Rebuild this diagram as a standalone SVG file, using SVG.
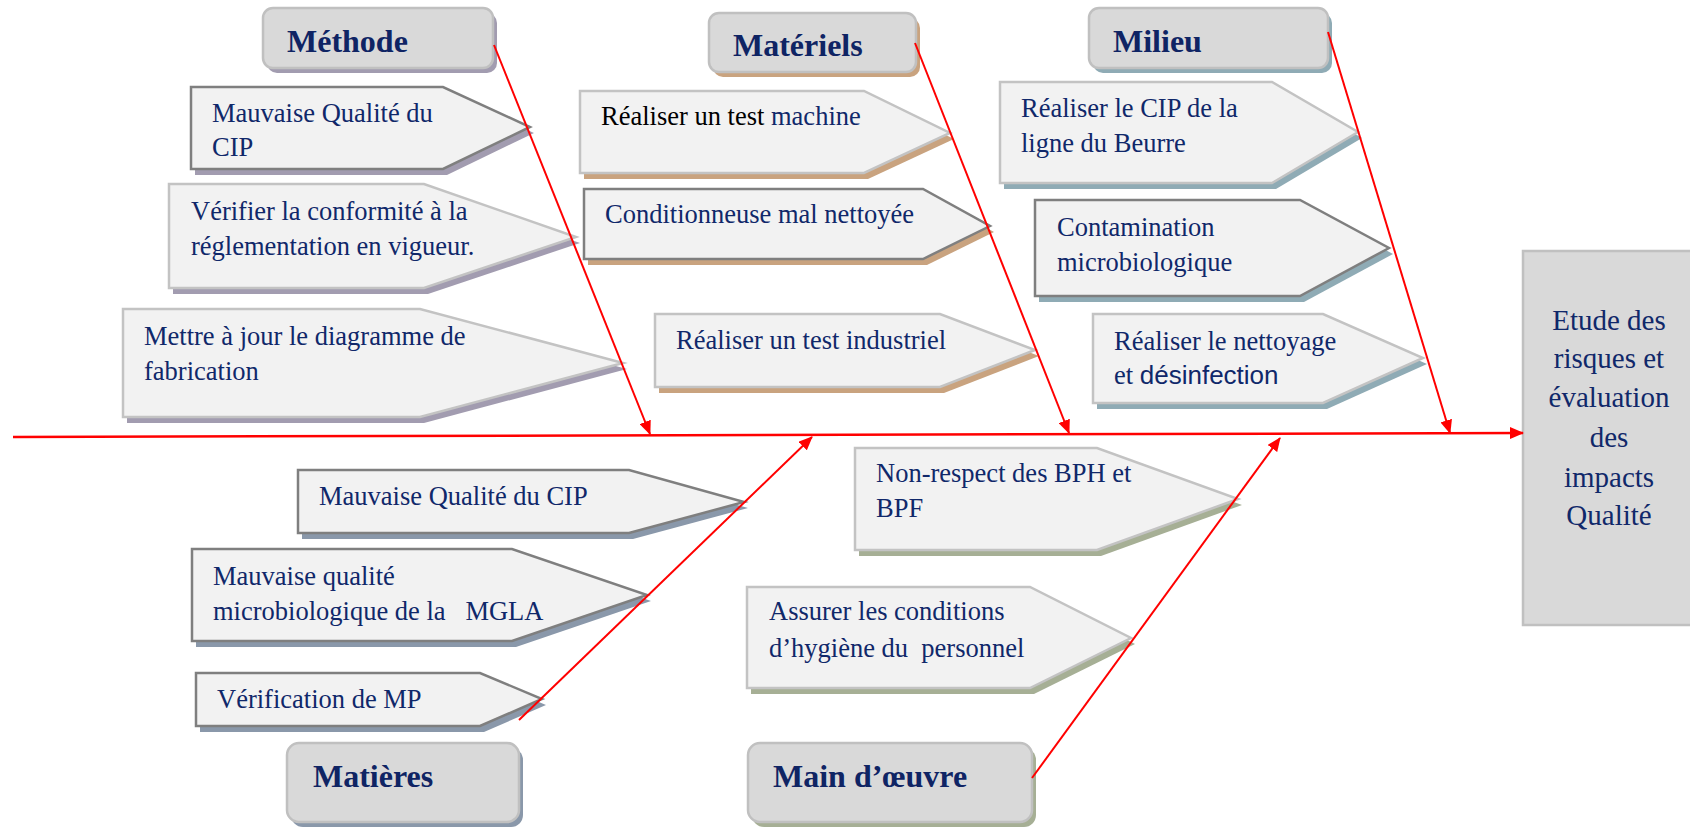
<svg xmlns="http://www.w3.org/2000/svg" width="1690" height="829" viewBox="0 0 1690 829">
  <defs>
    <marker id="ah" viewBox="0 0 14 12" refX="13" refY="6" markerWidth="14" markerHeight="12" markerUnits="userSpaceOnUse" orient="auto">
      <path d="M0,0 L14,6 L0,12 z" fill="#ff0000"/>
    </marker>
  </defs>
  <style>
    .hdr { fill: #d9d9d9; stroke: #c0c0c0; stroke-width: 2.5; }
    .cause { fill: #f2f2f2; stroke-width: 2.5; stroke-linejoin: miter; }
    .dark { stroke: #7f7f7f; }
    .light { stroke: #c3c3c3; }
    .sh-meth { fill: #a29cb0; }
    .sh-mat { fill: #c9a37f; }
    .sh-mil { fill: #8fabb5; }
    .sh-mtr { fill: #8a98aa; }
    .sh-mo { fill: #a6af95; }
    .t { font-family: "Liberation Serif", "Times New Roman", serif; font-size: 26.5px; fill: #10286a; }
    .h { font-family: "Liberation Serif", "Times New Roman", serif; font-size: 32px; font-weight: bold; fill: #0f2464; }
    .sans { font-family: "Liberation Sans", Arial, sans-serif; font-size: 26px; }
    .eff { font-family: "Liberation Serif", "Times New Roman", serif; font-size: 29px; fill: #10286a; text-anchor: middle; }
    .bone { stroke: #ff0000; stroke-width: 2; fill: none; marker-end: url(#ah); }
    .spine { stroke: #ff0000; stroke-width: 2.5; fill: none; marker-end: url(#ah); }
  </style>

  <!-- Effect -->
  <g id="effet">
    <rect x="1523" y="251" width="180" height="374" class="hdr" stroke-width="2"/>
    <text class="eff" x="1609" y="330">Etude des</text>
    <text class="eff" x="1609" y="368">risques et</text>
    <text class="eff" x="1609" y="407">évaluation</text>
    <text class="eff" x="1609" y="447">des</text>
    <text class="eff" x="1609" y="487">impacts</text>
    <text class="eff" x="1609" y="525">Qualité</text>
  </g>

  <!-- Méthode -->
  <g id="methode">
    <rect x="267" y="13" width="230" height="60" rx="10" class="sh-meth"/>
    <rect x="263" y="8" width="230" height="60" rx="10" class="hdr"/>
    <text class="h" x="287" y="52">Méthode</text>
  </g>
  <g id="methode-1">
    <polygon points="195,93 447,93 534,133 447,175 195,175" class="sh-meth"/>
    <polygon points="191,87 443,87 530,127 443,169 191,169" class="cause dark"/>
    <text class="t" x="212" y="122">Mauvaise Qualité du</text>
    <text class="t" x="212" y="156">CIP</text>
  </g>
  <g id="methode-2">
    <polygon points="173,190 428,190 580,243 428,294 173,294" class="sh-meth"/>
    <polygon points="169,184 424,184 576,237 424,288 169,288" class="cause light"/>
    <text class="t" x="191" y="220">Vérifier la conformité à la</text>
    <text class="t" x="191" y="255">réglementation en vigueur.</text>
  </g>
  <g id="methode-3">
    <polygon points="127,315 424,315 627,369 424,423 127,423" class="sh-meth"/>
    <polygon points="123,309 420,309 623,363 420,417 123,417" class="cause light"/>
    <text class="t" x="144" y="345">Mettre à jour le diagramme de</text>
    <text class="t" x="144" y="380">fabrication</text>
  </g>

  <!-- Matériels -->
  <g id="materiels">
    <rect x="713" y="18" width="207" height="59" rx="10" class="sh-mat"/>
    <rect x="709" y="13" width="207" height="59" rx="10" class="hdr"/>
    <text class="h" x="733" y="56">Matériels</text>
  </g>
  <g id="materiels-1">
    <polygon points="584,97 868,97 954,139 868,179 584,179" class="sh-mat"/>
    <polygon points="580,91 864,91 950,133 864,173 580,173" class="cause light"/>
    <text class="t" x="601" y="125"><tspan fill="#000000">Réaliser un test </tspan>machine</text>
  </g>
  <g id="materiels-2">
    <polygon points="588,195 927,195 994,232 927,265 588,265" class="sh-mat"/>
    <polygon points="584,189 923,189 990,226 923,259 584,259" class="cause dark"/>
    <text class="t" x="605" y="223">Conditionneuse mal nettoyée</text>
  </g>
  <g id="materiels-3">
    <polygon points="659,320 944,320 1039,356 944,393 659,393" class="sh-mat"/>
    <polygon points="655,314 940,314 1035,350 940,387 655,387" class="cause light"/>
    <text class="t" x="676" y="349">Réaliser un test industriel</text>
  </g>

  <!-- Milieu -->
  <g id="milieu">
    <rect x="1093" y="13" width="239" height="60" rx="10" class="sh-mil"/>
    <rect x="1089" y="8" width="239" height="60" rx="10" class="hdr"/>
    <text class="h" x="1113" y="52">Milieu</text>
  </g>
  <g id="milieu-1">
    <polygon points="1004,88 1276,88 1362,138 1276,189 1004,189" class="sh-mil"/>
    <polygon points="1000,82 1272,82 1358,132 1272,183 1000,183" class="cause light"/>
    <text class="t" x="1021" y="117">Réaliser le CIP de la</text>
    <text class="t" x="1021" y="152">ligne du Beurre</text>
  </g>
  <g id="milieu-2">
    <polygon points="1039,206 1304,206 1393,254 1304,302 1039,302" class="sh-mil"/>
    <polygon points="1035,200 1300,200 1389,248 1300,296 1035,296" class="cause dark"/>
    <text class="t" x="1057" y="236">Contamination</text>
    <text class="t" x="1057" y="271">microbiologique</text>
  </g>
  <g id="milieu-3">
    <polygon points="1097,320 1327,320 1427,364 1327,409 1097,409" class="sh-mil"/>
    <polygon points="1093,314 1323,314 1423,358 1323,403 1093,403" class="cause light"/>
    <text class="t" x="1114" y="350">Réaliser le nettoyage</text>
    <text class="t" x="1114" y="384">et <tspan class="sans">désinfection</tspan></text>
  </g>

  <!-- Matières -->
  <g id="matieres-1">
    <polygon points="302,476 633,476 748,508 633,539 302,539" class="sh-mtr"/>
    <polygon points="298,470 629,470 744,502 629,533 298,533" class="cause dark"/>
    <text class="t" x="319" y="505">Mauvaise Qualité du CIP</text>
  </g>
  <g id="matieres-2">
    <polygon points="196,555 516,555 651,601 516,647 196,647" class="sh-mtr"/>
    <polygon points="192,549 512,549 647,595 512,641 192,641" class="cause dark"/>
    <text class="t" x="213" y="585">Mauvaise qualité</text>
    <text class="t" x="213" y="620" style="white-space:pre">microbiologique de la   MGLA</text>
  </g>
  <g id="matieres-3">
    <polygon points="200,679 484,679 546,705 484,732 200,732" class="sh-mtr"/>
    <polygon points="196,673 480,673 542,699 480,726 196,726" class="cause dark"/>
    <text class="t" x="217" y="708">Vérification de MP</text>
  </g>
  <g id="matieres">
    <rect x="291" y="748" width="232" height="79" rx="12" class="sh-mtr"/>
    <rect x="287" y="743" width="232" height="79" rx="12" class="hdr"/>
    <text class="h" x="313" y="787">Matières</text>
  </g>

  <!-- Main d'œuvre -->
  <g id="main-oeuvre-1">
    <polygon points="859,454 1101,454 1242,505 1101,556 859,556" class="sh-mo"/>
    <polygon points="855,448 1097,448 1238,499 1097,550 855,550" class="cause light"/>
    <text class="t" x="876" y="482">Non-respect des BPH et</text>
    <text class="t" x="876" y="517">BPF</text>
  </g>
  <g id="main-oeuvre-2">
    <polygon points="751,593 1034,593 1135,644 1034,694 751,694" class="sh-mo"/>
    <polygon points="747,587 1030,587 1131,638 1030,688 747,688" class="cause light"/>
    <text class="t" x="769" y="620">Assurer les conditions</text>
    <text class="t" x="769" y="657" style="white-space:pre">d’hygiène du  personnel</text>
  </g>
  <g id="main-oeuvre">
    <rect x="752" y="748" width="284" height="79" rx="12" class="sh-mo"/>
    <rect x="748" y="743" width="284" height="79" rx="12" class="hdr"/>
    <text class="h" x="773" y="787">Main d’œuvre</text>
  </g>

  <!-- Connectors: spine and bones -->
  <g id="connecteurs">
    <line x1="13" y1="437" x2="1523" y2="433" class="spine"/>
    <line x1="494" y1="45" x2="650" y2="434" class="bone"/>
    <line x1="915" y1="43" x2="1069" y2="433" class="bone"/>
    <line x1="1328" y1="32" x2="1450" y2="433" class="bone"/>
    <line x1="519" y1="720" x2="812" y2="437" class="bone"/>
    <line x1="1032" y1="778" x2="1280" y2="438" class="bone"/>
  </g>
</svg>
